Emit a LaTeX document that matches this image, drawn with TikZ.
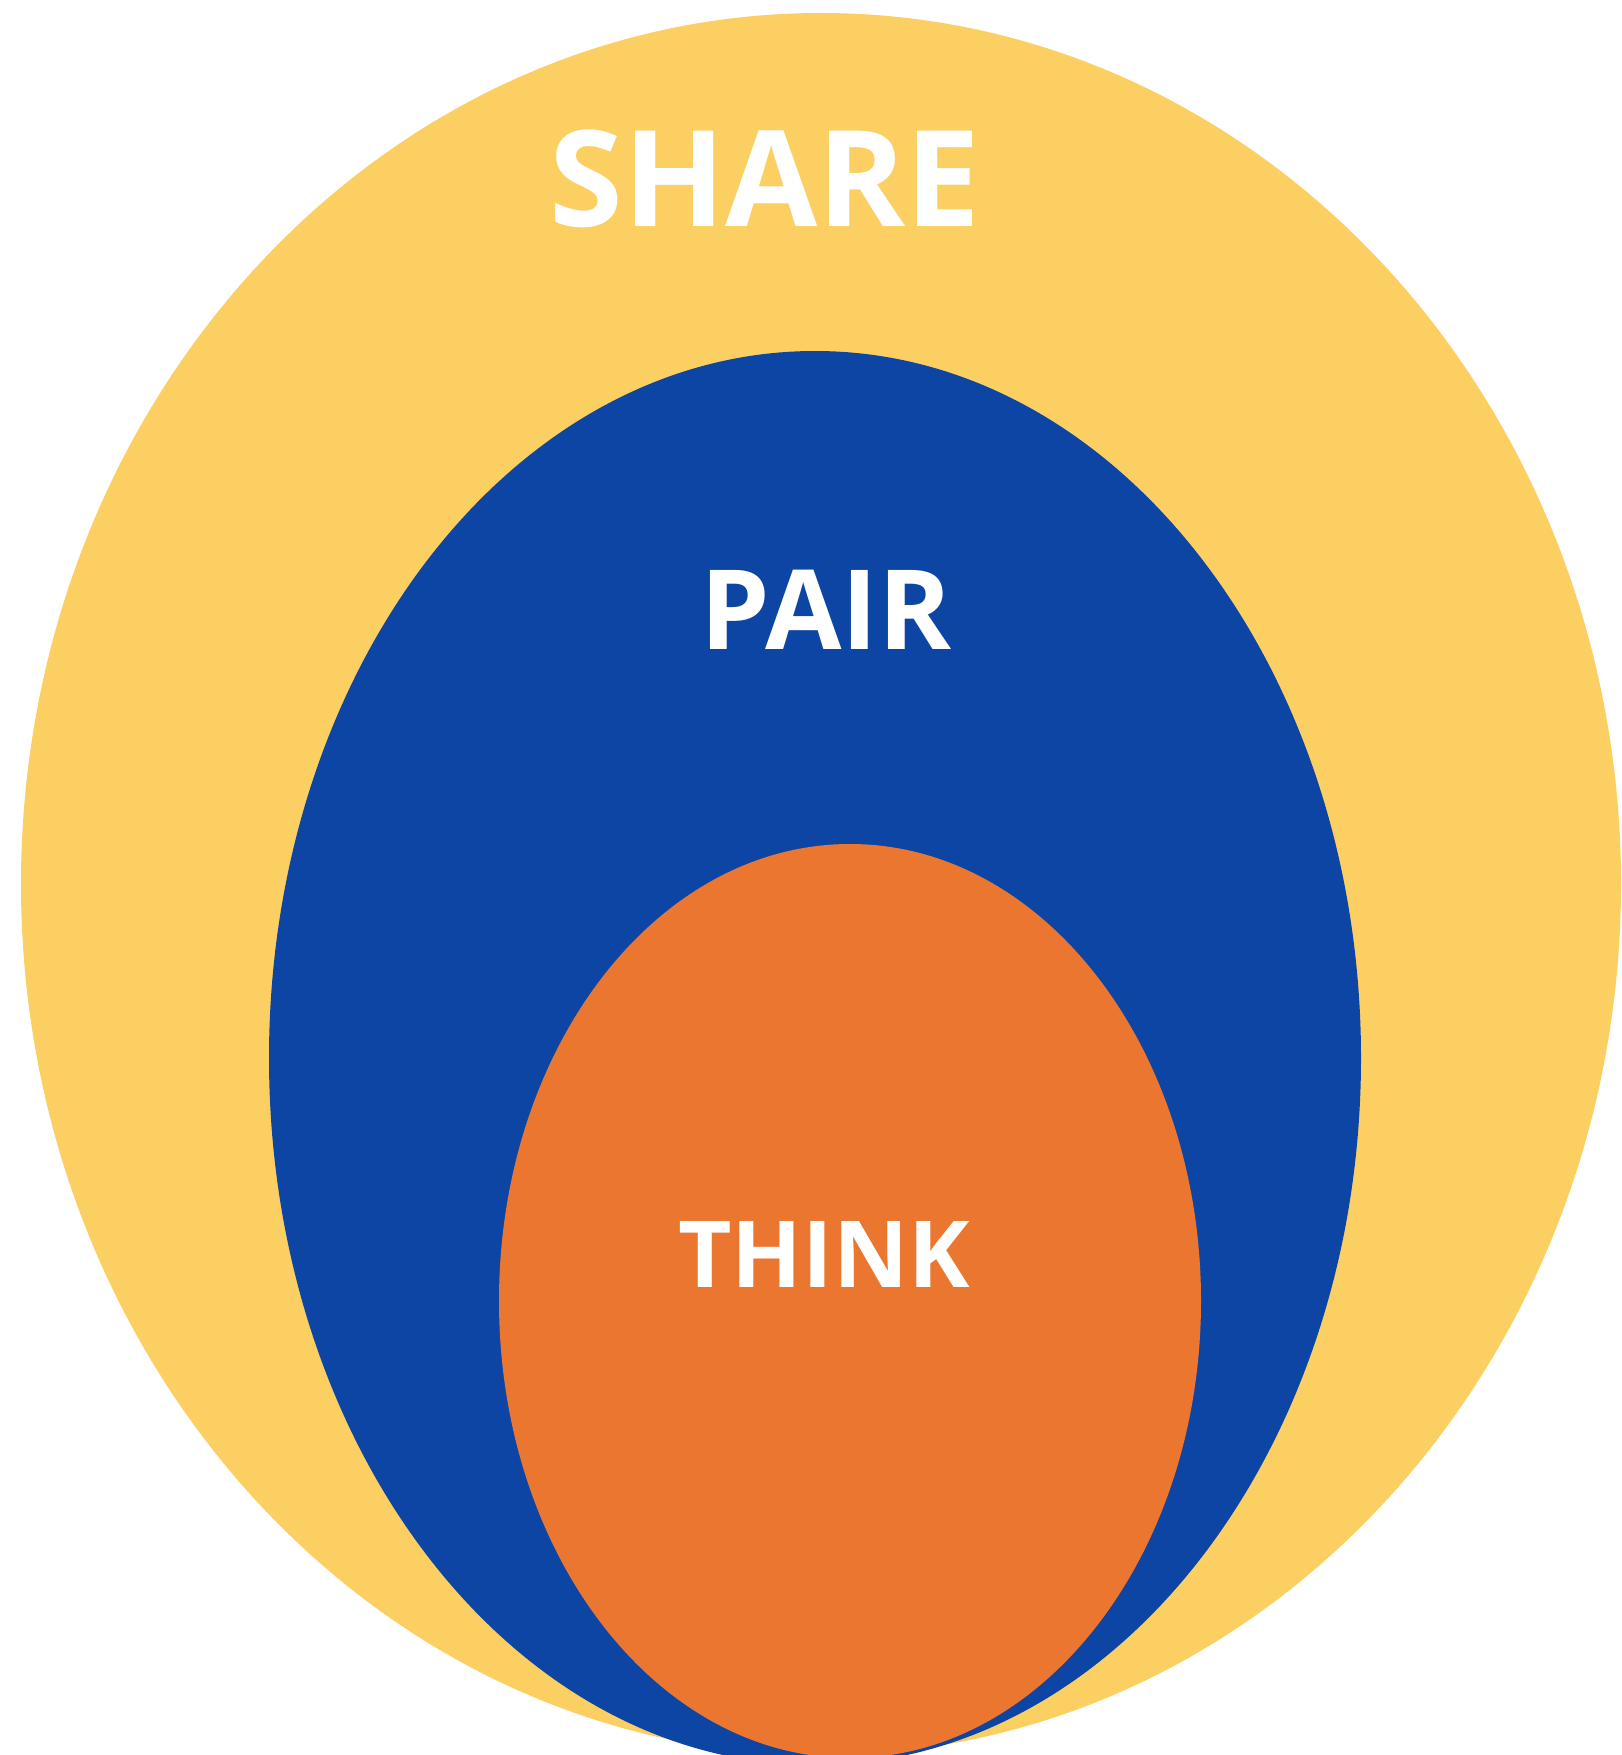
\documentclass[tikz,border=0pt]{standalone}
\usepackage{fontspec}
\setmainfont{Open Sans}
\usepackage{tikz}
\usetikzlibrary{shapes.geometric}
\definecolor{shareyellow}{HTML}{FCCF63}
\definecolor{pairblue}{HTML}{0D45A5}
\definecolor{thinkorange}{HTML}{EB7630}

\begin{document}
\begin{tikzpicture}[x=0.01cm,y=-0.01cm]
\tikzstyle{label}=[text=white, font=\bfseries, anchor=base, inner sep=0pt]
\useasboundingbox (0,0) rectangle (1621,1755);
\begin{scope}
\clip (0,0) rectangle (1621,1755);
\fill[shareyellow] (821,884) ellipse [x radius=800, y radius=871];
\fill[pairblue] (815,1058) ellipse [x radius=546, y radius=707];
\fill[thinkorange] (850,1301) ellipse [x radius=351, y radius=457];
\end{scope}

\node[label, font=\bfseries\fontsize{38}{40}\selectfont] (share) at (765,227) {SHARE};
\node[label, font=\bfseries\fontsize{31.5}{34}\selectfont] (pair) at (826,649) {PAIR};
\node[label, font=\bfseries\fontsize{26.3}{28}\selectfont] (think) at (824,1287) {THINK};
\end{tikzpicture}
\end{document}
